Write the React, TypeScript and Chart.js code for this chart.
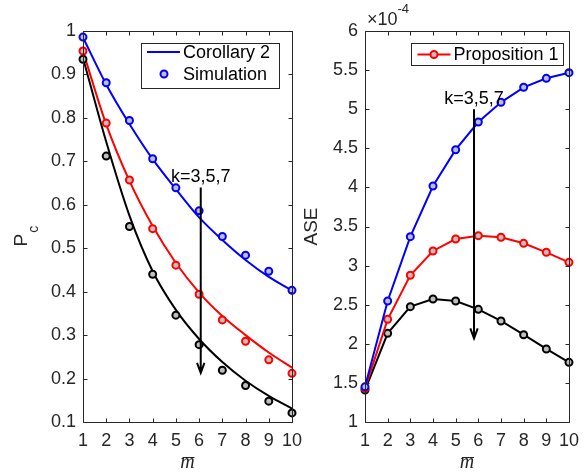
import React, { useEffect, useRef } from 'react';
import { Chart, registerables } from 'chart.js';

Chart.register(...registerables);

// ---------- data ----------
const mBar = [1, 2, 3, 4, 5, 6, 7, 8, 9, 10];

// Left panel: P_c, theory (Corollary 2) and simulation, k = 3, 5, 7
const pcTheoryK3 = [0.985, 0.877, 0.786, 0.705, 0.636, 0.571, 0.519, 0.473, 0.434, 0.403];
const pcTheoryK5 = [0.953, 0.785, 0.655, 0.551, 0.466, 0.398, 0.344, 0.3, 0.26, 0.225];
const pcTheoryK7 = [0.938, 0.745, 0.575, 0.447, 0.358, 0.291, 0.238, 0.195, 0.16, 0.131];
const pcSimK3 = [0.986, 0.881, 0.794, 0.706, 0.639, 0.586, 0.527, 0.484, 0.447, 0.403];
const pcSimK5 = [0.954, 0.788, 0.657, 0.545, 0.461, 0.394, 0.335, 0.286, 0.243, 0.212];
const pcSimK7 = [0.935, 0.712, 0.55, 0.44, 0.346, 0.278, 0.219, 0.184, 0.148, 0.121];

// Right panel: ASE (x 1e-4), Proposition 1, k = 3, 5, 7
const aseK3 = [1.45, 2.547, 3.37, 4.018, 4.482, 4.836, 5.088, 5.28, 5.395, 5.467];
const aseK5 = [1.43, 2.313, 2.876, 3.187, 3.34, 3.383, 3.362, 3.285, 3.17, 3.042];
const aseK7 = [1.409, 2.134, 2.475, 2.573, 2.547, 2.441, 2.292, 2.116, 1.934, 1.763];

// axis ranges / ticks
const pcRange = [0.1, 1];
const pcStep = 0.1;
const aseRange = [1, 6];
const aseStep = 0.5;
const xRange = [1, 10];

// annotation arrows: [x, yStart, yEnd]
const pcArrow = [6.07, 0.64, 0.213];
const aseArrow = [5.81, 5.0, 2.07];
const arrowLabel = 'k=3,5,7';

// ---------- style ----------
const FONT = '"Liberation Sans", Arial, Helvetica, sans-serif';
const SERIF = '"Liberation Serif", "DejaVu Serif", serif';
const AXIS = '#262626';
const FILL = '#bfbfbf';
const BLUE = '#0000ff';
const RED = '#ff0000';
const BLACK = '#000000';

const toXY = (ys: number[]) => mBar.map((x, i) => ({ x, y: ys[i] }));

function drawMarker(ctx: CanvasRenderingContext2D, x: number, y: number, color: string) {
  ctx.beginPath();
  ctx.arc(x, y, 3.5, 0, Math.PI * 2);
  ctx.fillStyle = FILL;
  ctx.fill();
  ctx.lineWidth = 2;
  ctx.strokeStyle = color;
  ctx.stroke();
}

function drawFrameAndTicks(chart: any) {
  const ctx: CanvasRenderingContext2D = chart.ctx;
  const a = chart.chartArea;
  const xs = chart.scales.x;
  const ys = chart.scales.y;
  const L = Math.round(a.left) + 0.5;
  const R = Math.round(a.right) + 0.5;
  const T = Math.round(a.top) + 0.5;
  const B = Math.round(a.bottom) + 0.5;
  ctx.save();
  ctx.strokeStyle = AXIS;
  ctx.lineWidth = 1;
  ctx.beginPath();
  ctx.rect(L, T, R - L, B - T);
  const tl = 4;
  xs.ticks.forEach((t: any) => {
    const px = Math.round(xs.getPixelForValue(t.value)) + 0.5;
    ctx.moveTo(px, B);
    ctx.lineTo(px, B - tl);
    ctx.moveTo(px, T);
    ctx.lineTo(px, T + tl);
  });
  ys.ticks.forEach((t: any) => {
    const py = Math.round(ys.getPixelForValue(t.value)) + 0.5;
    ctx.moveTo(L, py);
    ctx.lineTo(L + tl, py);
    ctx.moveTo(R, py);
    ctx.lineTo(R - tl, py);
  });
  ctx.stroke();
  ctx.restore();
}

function drawArrow(chart: any, arrow: number[]) {
  const ctx: CanvasRenderingContext2D = chart.ctx;
  const xs = chart.scales.x;
  const ys = chart.scales.y;
  const px = xs.getPixelForValue(arrow[0]);
  const y0 = ys.getPixelForValue(arrow[1]);
  const y1 = ys.getPixelForValue(arrow[2]);
  ctx.save();
  ctx.strokeStyle = BLACK;
  ctx.lineWidth = 2;
  ctx.beginPath();
  ctx.moveTo(px, y0);
  ctx.lineTo(px, y1);
  ctx.moveTo(px - 3.7, y1 - 10);
  ctx.lineTo(px, y1);
  ctx.lineTo(px + 3.7, y1 - 10);
  ctx.stroke();
  ctx.fillStyle = BLACK;
  ctx.font = `18px ${FONT}`;
  ctx.textAlign = 'center';
  ctx.textBaseline = 'alphabetic';
  ctx.fillText(arrowLabel, px, y0 - 5);
  ctx.restore();
}

function drawXTitle(chart: any) {
  const ctx: CanvasRenderingContext2D = chart.ctx;
  const a = chart.chartArea;
  const cx = (a.left + a.right) / 2;
  ctx.save();
  ctx.fillStyle = AXIS;
  ctx.font = `italic 20px ${SERIF}`;
  ctx.textAlign = 'center';
  ctx.textBaseline = 'alphabetic';
  ctx.fillText('m', cx, 468);
  ctx.strokeStyle = AXIS;
  ctx.lineWidth = 1;
  ctx.beginPath();
  ctx.moveTo(cx - 5, 457.5);
  ctx.lineTo(cx + 7, 457.5);
  ctx.stroke();
  ctx.restore();
}

const leftPlugin = {
  id: 'leftDecor',
  afterDraw(chart: any) {
    const ctx: CanvasRenderingContext2D = chart.ctx;
    drawFrameAndTicks(chart);
    drawArrow(chart, pcArrow);
    drawXTitle(chart);
    const a = chart.chartArea;
    // y title P_c
    ctx.save();
    ctx.fillStyle = AXIS;
    ctx.translate(27, (a.top + a.bottom) / 2 + 20);
    ctx.rotate(-Math.PI / 2);
    ctx.font = `19px ${FONT}`;
    ctx.textAlign = 'left';
    ctx.textBaseline = 'alphabetic';
    ctx.fillText('P', 0, 0);
    const w = ctx.measureText('P').width;
    ctx.font = `14px ${FONT}`;
    ctx.fillText('c', w + 1, 11);
    ctx.restore();
    // legend
    ctx.save();
    ctx.fillStyle = '#ffffff';
    ctx.fillRect(141.5, 43.5, 138, 45);
    ctx.strokeStyle = AXIS;
    ctx.lineWidth = 1;
    ctx.strokeRect(141.5, 43.5, 138, 45);
    ctx.strokeStyle = BLUE;
    ctx.lineWidth = 2;
    ctx.beginPath();
    ctx.moveTo(147, 52);
    ctx.lineTo(180, 52);
    ctx.stroke();
    drawMarker(ctx, 164, 74, BLUE);
    ctx.fillStyle = BLACK;
    ctx.font = `18px ${FONT}`;
    ctx.textAlign = 'left';
    ctx.textBaseline = 'middle';
    ctx.fillText('Corollary 2', 183, 53);
    ctx.fillText('Simulation', 183, 75);
    ctx.restore();
  },
};

const rightPlugin = {
  id: 'rightDecor',
  afterDraw(chart: any) {
    const ctx: CanvasRenderingContext2D = chart.ctx;
    drawFrameAndTicks(chart);
    drawArrow(chart, aseArrow);
    drawXTitle(chart);
    const a = chart.chartArea;
    // y title ASE
    ctx.save();
    ctx.fillStyle = AXIS;
    ctx.translate(27, (a.top + a.bottom) / 2);
    ctx.rotate(-Math.PI / 2);
    ctx.font = `19px ${FONT}`;
    ctx.textAlign = 'center';
    ctx.textBaseline = 'alphabetic';
    ctx.fillText('ASE', 0, 0);
    ctx.restore();
    // exponent x10^-4
    ctx.save();
    ctx.fillStyle = AXIS;
    ctx.font = `18px ${FONT}`;
    ctx.textAlign = 'left';
    ctx.textBaseline = 'alphabetic';
    ctx.fillText('\u00d710', a.left + 2, 25);
    const w = ctx.measureText('\u00d710').width;
    ctx.font = `13px ${FONT}`;
    ctx.fillText('-4', a.left + 2 + w, 13);
    ctx.restore();
    // legend
    const bx = 121.5;
    ctx.save();
    ctx.fillStyle = '#ffffff';
    ctx.fillRect(bx, 43.5, 152, 22);
    ctx.strokeStyle = AXIS;
    ctx.lineWidth = 1;
    ctx.strokeRect(bx, 43.5, 152, 22);
    ctx.strokeStyle = RED;
    ctx.lineWidth = 2;
    ctx.beginPath();
    ctx.moveTo(bx + 6, 54.5);
    ctx.lineTo(bx + 39, 54.5);
    ctx.stroke();
    drawMarker(ctx, bx + 22.5, 54.5, RED);
    ctx.fillStyle = BLACK;
    ctx.font = `18px ${FONT}`;
    ctx.textAlign = 'left';
    ctx.textBaseline = 'middle';
    ctx.fillText('Proposition 1', bx + 42, 55.5);
    ctx.restore();
  },
};

function baseOptions(yMin: number, yMax: number, yStep: number, yWidth: number, padRight: number, fmt: (v: number) => string) {
  return {
    animation: false as const,
    responsive: false,
    maintainAspectRatio: false,
    layout: { padding: { left: 0, top: 31, right: padRight, bottom: 0 } },
    plugins: { legend: { display: false }, tooltip: { enabled: false } },
    scales: {
      x: {
        type: 'linear' as const,
        min: xRange[0],
        max: xRange[1],
        grid: { display: false, drawTicks: false },
        border: { display: false },
        ticks: {
          stepSize: 1,
          padding: 8,
          autoSkip: false,
          maxRotation: 0,
          color: AXIS,
          font: { family: FONT, size: 18 },
        },
        afterFit: (s: any) => {
          s.height = 50;
        },
      },
      y: {
        type: 'linear' as const,
        min: yMin,
        max: yMax,
        grid: { display: false, drawTicks: false },
        border: { display: false },
        ticks: {
          stepSize: yStep,
          padding: 7,
          autoSkip: false,
          color: AXIS,
          font: { family: FONT, size: 18 },
          callback: (v: any) => fmt(Number(v)),
        },
        afterFit: (s: any) => {
          s.width = yWidth;
        },
      },
    },
  };
}

const simSet = (data: number[], color: string) => ({
  data: toXY(data),
  showLine: false,
  borderColor: color,
  backgroundColor: FILL,
  pointRadius: 3.5,
  pointBorderWidth: 2,
  pointBackgroundColor: FILL,
  pointBorderColor: color,
  clip: false as const,
});

const theorySet = (data: number[], color: string) => ({
  data: toXY(data),
  borderColor: color,
  borderWidth: 2,
  pointRadius: 0,
  cubicInterpolationMode: 'monotone' as const,
  fill: false,
  clip: false as const,
});

const aseSet = (data: number[], color: string) => ({
  data: toXY(data),
  borderColor: color,
  borderWidth: 2,
  backgroundColor: FILL,
  pointRadius: 3.5,
  pointBorderWidth: 2,
  pointBackgroundColor: FILL,
  pointBorderColor: color,
  fill: false,
  clip: false as const,
});

export default function App() {
  const leftRef = useRef<HTMLCanvasElement | null>(null);
  const rightRef = useRef<HTMLCanvasElement | null>(null);

  useEffect(() => {
    document.body.style.margin = '0';
    const left = new Chart(leftRef.current!, {
      type: 'line',
      data: {
        datasets: [
          simSet(pcSimK3, BLUE),
          simSet(pcSimK5, RED),
          simSet(pcSimK7, BLACK),
          theorySet(pcTheoryK3, BLUE),
          theorySet(pcTheoryK5, RED),
          theorySet(pcTheoryK7, BLACK),
        ] as any,
      },
      options: baseOptions(pcRange[0], pcRange[1], pcStep, 83, 28, (v) => String(Math.round(v * 10) / 10)) as any,
      plugins: [leftPlugin],
    });
    const right = new Chart(rightRef.current!, {
      type: 'line',
      data: {
        datasets: [aseSet(aseK3, BLUE), aseSet(aseK5, RED), aseSet(aseK7, BLACK)] as any,
      },
      options: baseOptions(aseRange[0], aseRange[1], aseStep, 75, 12, (v) => String(Math.round(v * 10) / 10)) as any,
      plugins: [rightPlugin],
    });
    return () => {
      left.destroy();
      right.destroy();
    };
  }, []);

  return (
    <div style={{ position: 'fixed', left: 0, top: 0, width: 587, height: 472, background: '#ffffff', overflow: 'hidden' }}>
      <canvas ref={leftRef} width={320} height={472} style={{ position: 'absolute', left: 0, top: 0, width: 320, height: 472 }} />
      <canvas ref={rightRef} width={297} height={472} style={{ position: 'absolute', left: 290, top: 0, width: 297, height: 472 }} />
    </div>
  );
}
